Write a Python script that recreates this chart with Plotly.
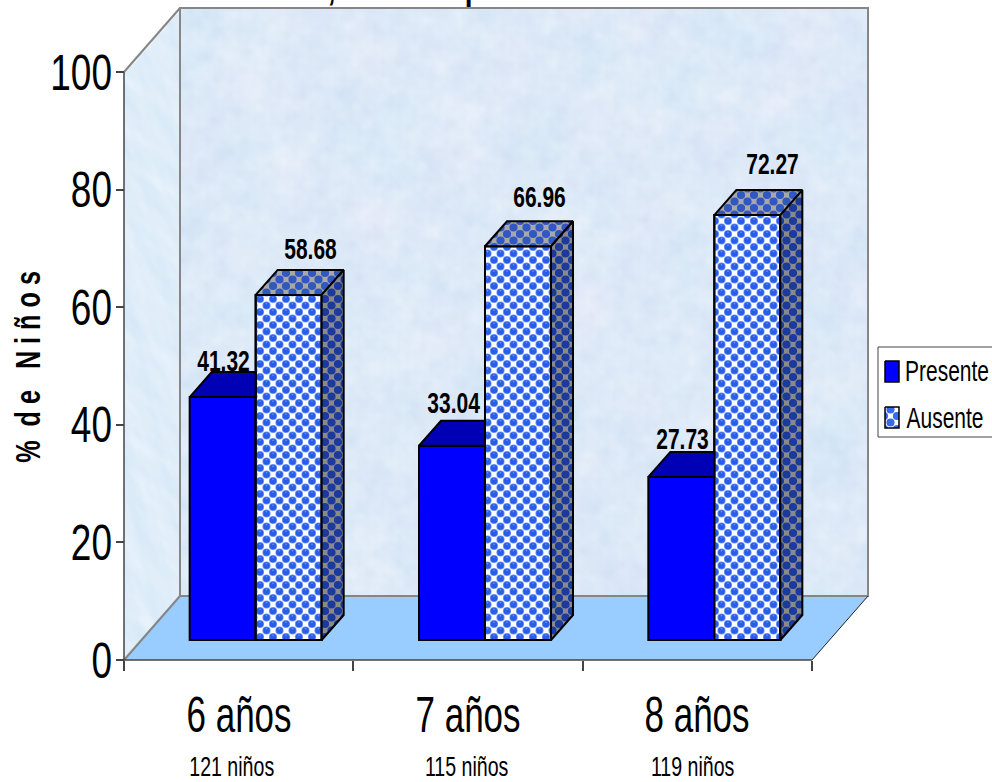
import base64
import struct
import zlib

import numpy as np
import plotly.graph_objects as go

# Chart data
categories = ["6 años", "7 años", "8 años"]
sample_labels = ["121 niños", "115 niños", "119 niños"]
presente = [41.32, 33.04, 27.73]
ausente = [58.68, 66.96, 72.27]
y_ticks = [0, 20, 40, 60, 80, 100]

W, H = 992, 782
FONT = "Liberation Sans"

# Plot scale: pixels per category and per percentage point
LEFT, RIGHT, BOTTOM, TOP = 124, 812, 660, 72
PX_X = (RIGHT - LEFT) / 3
PX_Y = (BOTTOM - TOP) / 100


def ux(px):
    return (px - LEFT) / PX_X


def uy(px):
    return (BOTTOM - px) / PX_Y


# Oblique projection of the room and the bars, in axis units
ROOM_DX, ROOM_DY = 56 / PX_X, 64 / PX_Y
BAR_DX, BAR_DY = 22 / PX_X, 25 / PX_Y
BAR_BASE = 20 / PX_Y
BAR_W = 66 / PX_X
GROUP_SHIFT = 17 / PX_X


def wave_field(X, Y, periods, angle_step, angle0=0.0, spread=None):
    """Sum of plane waves at stepped angles, normalised to about -1..1."""
    out = np.zeros_like(X)
    for k, period in enumerate(periods):
        a = angle0 + (k * angle_step if spread is None else spread * np.sin(k * angle_step))
        out += np.sin(2 * np.pi * (X * np.cos(a) + Y * np.sin(a)) / period + k * 1.7)
    return out / (np.sqrt(len(periods)) * 1.4)


def wall_texture():
    """Paper-like mottling for the back and side walls, as an RGBA PNG data URI."""
    x0, x1, y0, y1 = 124, 868, 8, 660
    X, Y = np.meshgrid(np.arange(x0, x1, 2.0), np.arange(y0, y1, 2.0))
    blotch = wave_field(X, Y, [110 + 13 * k for k in range(6)] + [40 + 7 * k for k in range(12)], 2.4)
    fibre = wave_field(X, Y, [8 + 1.1 * k for k in range(30)], 2.4)
    tint = wave_field(X, Y, [70 + 17 * k for k in range(8)], 1.9)
    streak = wave_field(X, Y, [8 + 1.7 * k for k in range(26)], 1.3, angle0=2.5, spread=0.45)

    back = np.stack([222 + 5 * blotch + 4 * fibre + 1.5 * tint,
                     234 + 2.5 * blotch + 3 * fibre - 1 * tint,
                     248 + 1 * blotch + 1.5 * fibre], axis=-1)
    side = np.stack([224 + 5 * streak, 238 + 3.5 * streak, 250 + 1.5 * streak], axis=-1)
    is_side = X < 180
    rgb = np.where(is_side[..., None], side, back)

    inside_side = is_side & (Y >= 72 - (X - 124) * 64 / 56) & (Y <= 660 - (X - 124) * 64 / 56)
    inside_back = ~is_side & (Y <= 596)
    alpha = np.where(inside_side | inside_back, 255, 0)
    rgba = np.dstack([np.clip(rgb, 0, 255), alpha]).astype(np.uint8)

    h, w = rgba.shape[:2]
    raw = b"".join(b"\x00" + rgba[r].tobytes() for r in range(h))

    def chunk(tag, data):
        return struct.pack(">I", len(data)) + tag + data + struct.pack(">I", zlib.crc32(tag + data))

    png = (b"\x89PNG\r\n\x1a\n" + chunk(b"IHDR", struct.pack(">IIBBBBB", w, h, 8, 6, 0, 0, 0))
           + chunk(b"IDAT", zlib.compress(raw, 9)) + chunk(b"IEND", b""))
    return "data:image/png;base64," + base64.b64encode(png).decode()


def circle(cx, cy, r, reverse=False):
    s = 0 if reverse else 1
    return f"M{cx - r} {cy}a{r} {r} 0 1 {s} {2 * r} 0a{r} {r} 0 1 {s} {-2 * r} 0Z"


TILE_SPOTS = [(6.5, 6.5), (0, 0), (13, 0), (0, 13), (13, 13)]
SPHERES = "".join(circle(cx, cy, 4.1) for cx, cy in TILE_SPOTS)
# Smaller solid core with a small highlight hole, laid over the lighter rim
CORES = "".join(circle(cx, cy, 3.3) + circle(cx, cy - 1.8, 0.8, reverse=True) for cx, cy in TILE_SPOTS)


def sphere_pattern(fg, bg):
    return dict(path=SPHERES, size=13, solidity=1, fgcolor=fg, bgcolor=bg, fgopacity=1)


fig = go.Figure()


def poly(xs, ys, fill=None, line="rgba(0,0,0,0)", width=0, pattern=None):
    kw = dict(fillpattern=pattern) if pattern else {}
    fig.add_trace(go.Scatter(
        x=xs, y=ys, mode="lines", fill="toself",
        fillcolor=fill or "rgba(0,0,0,0)", hoverinfo="skip", showlegend=False,
        line=dict(color=line, width=width), **kw))


shapes = []


def room_face(xs, ys, fill, line=None, width=0):
    d = "M" + "L".join(f"{x} {y}" for x, y in zip(xs, ys)) + "Z"
    shapes.append(dict(type="path", path=d, xref="x", yref="y", layer="between",
                       fillcolor=fill, line=dict(color=line or "rgba(0,0,0,0)", width=width)))


def edge(xs, ys, color, width):
    shapes.append(dict(type="line", x0=xs[0], x1=xs[1], y0=ys[0], y1=ys[1], xref="x", yref="y",
                       layer="between", line=dict(color=color, width=width)))


# Room: floor, then wall outlines (wall surfaces come from the texture)
top = 100 + ROOM_DY
room_face([0, 3, 3 + ROOM_DX, ROOM_DX], [0, 0, ROOM_DY, ROOM_DY], "#99ccff")
room_face([ROOM_DX, 3 + ROOM_DX, 3 + ROOM_DX, ROOM_DX], [ROOM_DY, ROOM_DY, top, top],
          "rgba(0,0,0,0)", "#868686", 2)
edge([0, ROOM_DX], [100, top], "#868686", 2)
edge([0, ROOM_DX], [0, ROOM_DY], "#868686", 2)
edge([3, 3 + ROOM_DX], [0, ROOM_DY], "#222222", 1)
edge([0, 0], [0, 100], "#444444", 1.5)
edge([0, 3], [0, 0], "#444444", 1.5)

centers = [i + 0.5 + GROUP_SHIFT for i in range(3)]

fig.add_trace(go.Bar(
    x=centers, y=presente, base=BAR_BASE, width=BAR_W, offset=-BAR_W, name="Presente",
    hoverinfo="skip", showlegend=False,
    marker=dict(color="#0000ff", line=dict(color="black", width=2))))
fig.add_trace(go.Bar(
    x=centers, y=ausente, base=BAR_BASE, width=BAR_W, offset=0, name="Ausente",
    hoverinfo="skip", showlegend=False,
    marker=dict(color="white", line=dict(color="black", width=2),
                pattern=sphere_pattern("#6c98f8", "#ffffff"))))
fig.add_trace(go.Bar(
    x=centers, y=ausente, base=BAR_BASE, width=BAR_W, offset=0, name="Ausente",
    hoverinfo="skip", showlegend=False,
    marker=dict(color="rgba(0,0,0,0)", line=dict(color="black", width=2),
                pattern=dict(path=CORES, size=13, solidity=1, fgcolor="#2a5ce8",
                             bgcolor="rgba(0,0,0,0)", fgopacity=1))))

for c, p, a in zip(centers, presente, ausente):
    y_p = BAR_BASE + p
    y_a = BAR_BASE + a
    # Top of the Presente bar, its back corner hidden by the neighbour
    poly([c - BAR_W, c - BAR_W + BAR_DX, c, c, c - BAR_W],
         [y_p, y_p + BAR_DY, y_p + BAR_DY, y_p, y_p],
         fill="#0000b4", line="black", width=2)
    # Top of the Ausente bar
    poly([c, c + BAR_DX, c + BAR_W + BAR_DX, c + BAR_W, c],
         [y_a, y_a + BAR_DY, y_a + BAR_DY, y_a, y_a],
         fill="#a8a8a8", line="black", width=2,
         pattern=sphere_pattern("#3058c0", "#a8a8a8"))
    # Right side of the Ausente bar
    poly([c + BAR_W, c + BAR_W + BAR_DX, c + BAR_W + BAR_DX, c + BAR_W, c + BAR_W],
         [BAR_BASE, BAR_BASE + BAR_DY, y_a + BAR_DY, y_a, BAR_BASE],
         fill="#8a8a8a", line="black", width=2,
         pattern=sphere_pattern("#1c3a9c", "#8a8a8a"))

# Legend box and swatches
poly([ux(878), ux(994), ux(994), ux(878), ux(878)],
     [uy(347), uy(347), uy(437), uy(437), uy(347)],
     fill="white", line="#444444", width=1)
poly([ux(885), ux(899), ux(899), ux(885), ux(885)],
     [uy(361), uy(361), uy(382), uy(382), uy(361)],
     fill="#0000ff", line="black", width=1.5)
poly([ux(885), ux(899), ux(899), ux(885), ux(885)],
     [uy(407), uy(407), uy(428), uy(428), uy(407)],
     fill="white", line="black", width=1.5,
     pattern=sphere_pattern("#3a68ee", "#ffffff"))

notes = []


def note(x, y, text, size, bold=False, **kw):
    label = f"<b>{text}</b>" if bold else text
    item = dict(x=x, y=y, xref="x", yref="y", text=label, showarrow=False,
                font=dict(family=FONT, size=size, color="black"))
    item.update(kw)
    notes.append(item)


# Value labels
for i, (c, p, a) in enumerate(zip(centers, presente, ausente)):
    note(c - BAR_W / 2, BAR_BASE + p, f"{p:.2f}", 30, True, yshift=[37, 43, 38][i], xshift=1)
    note(c + BAR_W / 2, BAR_BASE + a, f"{a:.2f}", 30, True, yshift=[46, 50, 52][i], xshift=[22, 21, 25][i])

# Category and sample-size labels
for i, (cat, n) in enumerate(zip(categories, sample_labels)):
    note(i + 0.5, uy(715), cat, 50)
    note(i + 0.5, uy(766), n, 28, xshift=[-7, -2, -5][i])

# Legend labels
note(ux(947), uy(370), "Presente", 30)
note(ux(945), uy(417), "Ausente", 30)

# Axis title, set vertically beside the tick labels
note(ux(27), uy(367), "%\u00a0\u00a0d e\u00a0\u00a0\u00a0N i ñ o s", 36, True, textangle=-90)

# Descenders of the heading line, which runs past the top edge
for x_px, glyph in [(331, ","), (473, "p")]:
    note(ux(x_px), 1 + 39 / H, glyph, 40, True, yref="paper")

fig.update_layout(
    width=W, height=H, margin=dict(l=0, r=0, t=0, b=0),
    paper_bgcolor="white", plot_bgcolor="white",
    barmode="overlay", showlegend=False, annotations=notes, shapes=shapes,
    images=[dict(source=wall_texture(), xref="x", yref="y", x=ux(124), y=uy(8),
                 sizex=ux(868) - ux(124), sizey=uy(8) - uy(660), sizing="stretch",
                 xanchor="left", yanchor="top", layer="below")],
    xaxis=dict(domain=[0, 1], range=[ux(0), ux(W)], anchor="free", position=(H - BOTTOM) / H,
               tickvals=[0, 1, 2, 3], ticktext=["", "", "", ""], ticks="outside", ticklen=10,
               tickcolor="#444444", tickwidth=1.5, showline=False,
               showgrid=False, zeroline=False, fixedrange=True),
    yaxis=dict(domain=[0, 1], range=[uy(H), uy(0)], anchor="free", position=LEFT / W,
               tickvals=y_ticks, ticks="outside", ticklen=8,
               tickcolor="#444444", tickwidth=1.5, showline=False,
               showgrid=False, zeroline=False, fixedrange=True,
               tickfont=dict(family=FONT, size=50, color="black")),
)

# Narrow the text along its baseline to a condensed set width
CONDENSE = """
var gd = document.getElementById('{plot_id}');
function squeeze(t, scale, anchorRight, dx) {
  var b = t.getBBox();
  var ax = anchorRight ? b.x + b.width : b.x + b.width / 2;
  var old = t.getAttribute('transform') || '';
  t.setAttribute('transform', old + ' translate(' + (ax + dx) + ',0) scale(' + scale + ',1) translate(' + (-ax) + ',0)');
}
gd.querySelectorAll('.annotation text').forEach(function (t) { squeeze(t, 0.7, false, 0); });
gd.querySelectorAll('.ytick text').forEach(function (t) { squeeze(t, 0.74, true, 6); });
"""

fig.write_html("out.html", config=dict(displayModeBar=False), post_script=CONDENSE)
